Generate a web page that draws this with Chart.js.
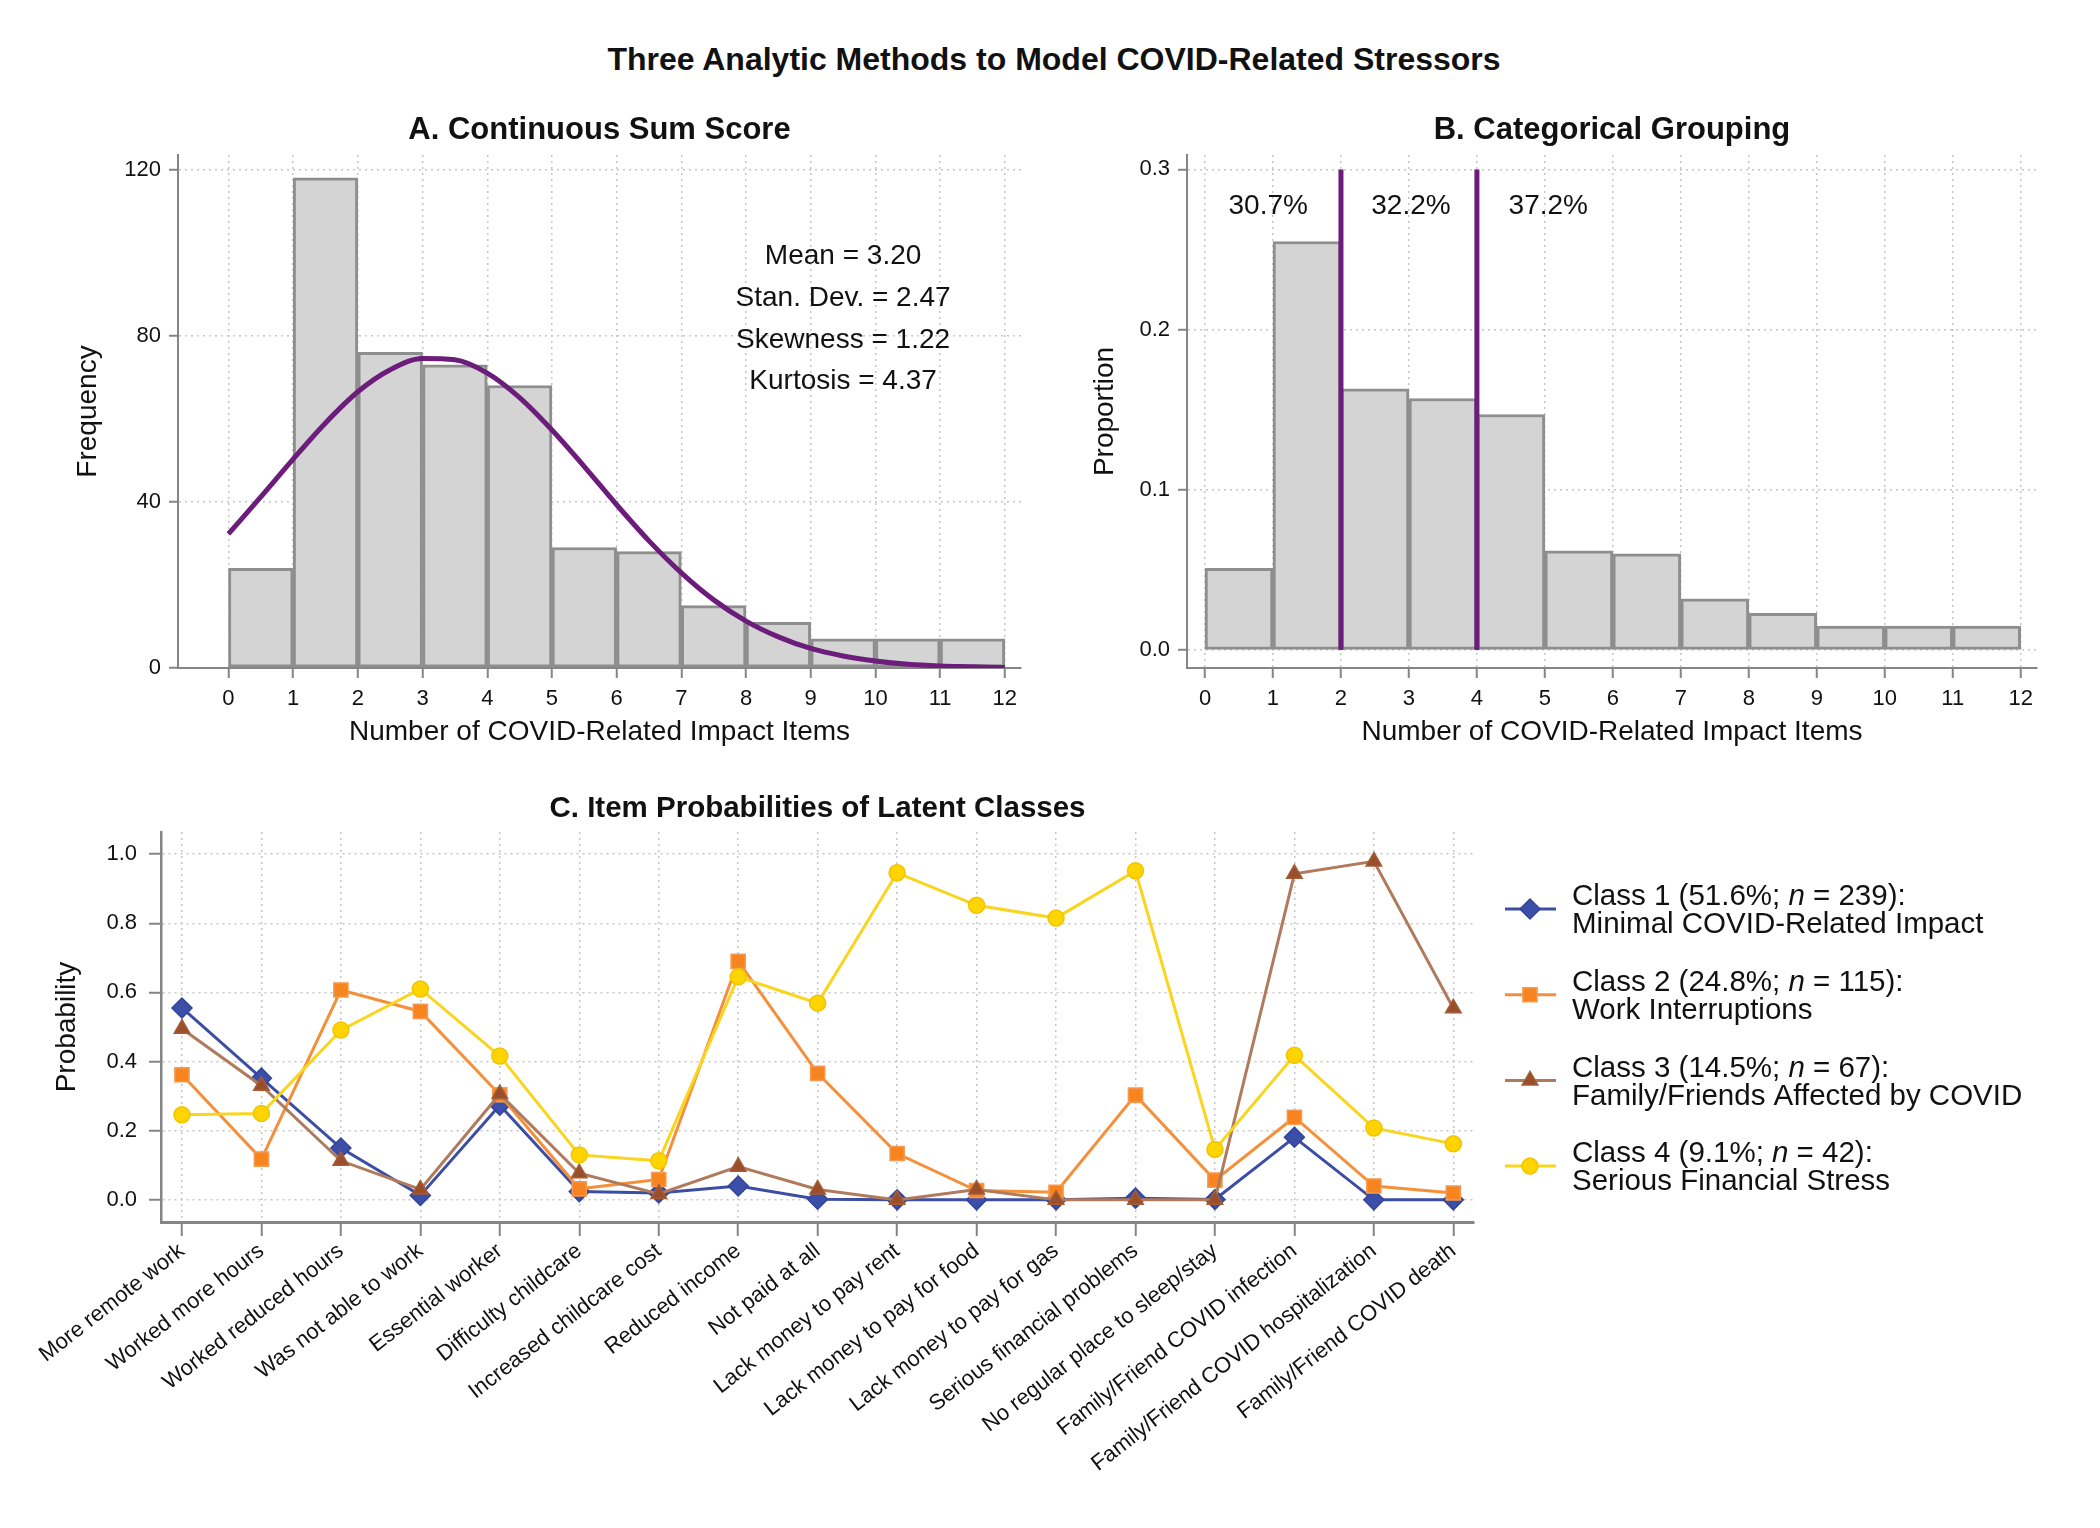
<!DOCTYPE html>
<html>
<head>
<meta charset="utf-8">
<title>Three Analytic Methods to Model COVID-Related Stressors</title>
<script src="https://cdn.jsdelivr.net/npm/chart.js@4.4.1/dist/chart.umd.min.js"></script>
<style>
  html, body { margin: 0; padding: 0; background: #fff; }
  #page { position: relative; width: 2100px; height: 1528px; overflow: hidden; background: #fff;
          font-family: "Liberation Sans", Arial, Helvetica, sans-serif; }
  #mainTitle { position: absolute; left: 4px; top: 40px; width: 2100px; text-align: center;
               font-size: 32px; line-height: 38px; font-weight: bold; color: #111; }
  .box { position: absolute; }
</style>
</head>
<body>
<div id="page">
  <div id="mainTitle">Three Analytic Methods to Model COVID-Related Stressors</div>
  <div class="box" style="left:0;top:80px;"><canvas id="chartA" width="1050" height="680"></canvas></div>
  <div class="box" style="left:1050px;top:80px;"><canvas id="chartB" width="1050" height="680"></canvas></div>
  <div class="box" style="left:0;top:760px;"><canvas id="chartC" width="2100" height="768"></canvas></div>
</div>
<script>
// ---- data ----
const binEdges = [0, 1, 2, 3, 4, 5, 6, 7, 8, 9, 10, 11, 12];
const frequency = [24, 118, 76, 73, 68, 29, 28, 15, 11, 7, 7, 7];
const proportion = [0.051, 0.255, 0.163, 0.157, 0.147, 0.062, 0.060, 0.032, 0.023, 0.015, 0.015, 0.015];

// fitted normal curve
const curveX = [0, 0.5, 1, 1.5, 2, 2.5, 3, 3.5, 4, 4.5, 5, 5.5, 6, 6.5, 7, 7.5, 8, 8.5, 9, 9.5, 10, 10.5, 11, 11.5, 12];
const curveY = [32.3, 41.2, 50.3, 59.0, 66.5, 71.8, 74.5, 74.2, 71.0, 65.1, 57.3, 48.5, 39.3, 30.6, 22.9, 16.4, 11.3, 7.5, 4.7, 2.9, 1.7, 0.9, 0.5, 0.3, 0.1];

const statsLines = ['Mean = 3.20', 'Stan. Dev. = 2.47', 'Skewness = 1.22', 'Kurtosis = 4.37'];
const freqTicks = [0, 40, 80, 120];
const propTicks = [0, 0.1, 0.2, 0.3];

const cutPoints = [2, 4];
const cutTop = 0.3;
const groupLabels = ['30.7%', '32.2%', '37.2%'];

const items = [
  'More remote work', 'Worked more hours', 'Worked reduced hours', 'Was not able to work',
  'Essential worker', 'Difficulty childcare', 'Increased childcare cost', 'Reduced income',
  'Not paid at all', 'Lack money to pay rent', 'Lack money to pay for food', 'Lack money to pay for gas',
  'Serious financial problems', 'No regular place to sleep/stay', 'Family/Friend COVID infection',
  'Family/Friend COVID hospitalization', 'Family/Friend COVID death'
];
const class1 = [0.555, 0.352, 0.150, 0.013, 0.274, 0.024, 0.020, 0.040, 0.002, 0.000, 0.000, 0.000, 0.005, 0.001, 0.181, 0.000, 0.000];
const class2 = [0.362, 0.118, 0.607, 0.545, 0.304, 0.032, 0.059, 0.690, 0.366, 0.134, 0.027, 0.022, 0.303, 0.057, 0.239, 0.040, 0.020];
const class3 = [0.495, 0.330, 0.113, 0.030, 0.306, 0.077, 0.017, 0.096, 0.030, 0.000, 0.030, 0.000, 0.000, 0.000, 0.943, 0.979, 0.554];
const class4 = [0.246, 0.250, 0.491, 0.610, 0.416, 0.130, 0.113, 0.645, 0.569, 0.946, 0.852, 0.815, 0.952, 0.146, 0.418, 0.208, 0.162];
const probTicks = [0, 0.2, 0.4, 0.6, 0.8, 1.0];

const classNames = ['Class 1', 'Class 2', 'Class 3', 'Class 4'];
const classShares = ['51.6%', '24.8%', '14.5%', '9.1%'];
const classSizes = [239, 115, 67, 42];
const classDescriptions = ['Minimal COVID-Related Impact', 'Work Interruptions', 'Family/Friends Affected by COVID', 'Serious Financial Stress'];

// ---- styles ----
const fontFamily = '"Liberation Sans", Arial, Helvetica, sans-serif';
Chart.defaults.font.family = fontFamily;
Chart.defaults.color = '#111';
Chart.defaults.animation = false;

const axisGray = '#858585';
const gridGray = '#c6c6c6';
const barFill = '#d4d4d4';
const barEdge = '#8e8e8e';
const purple = '#6c1c7a';

const classStyles = [
  { line: '#3c4ea3', fill: '#3b4ea8', edge: '#33449a', point: 'rectRot', radius: 10 },
  { line: '#f4903a', fill: '#f7841f', edge: '#f59a50', point: 'rect', radius: 10 },
  { line: '#b07a5c', fill: '#9a4e2a', edge: '#a35d38', point: 'triangle', radius: 9 },
  { line: '#fad51e', fill: '#ffd400', edge: '#f2c400', point: 'circle', radius: 8 }
];

function axisGrid(tickLen) {
  return { color: gridGray, lineWidth: 1.5, tickLength: tickLen, tickColor: axisGray, tickWidth: 2, offset: false };
}
const axisBorder = { color: axisGray, width: 2, dash: [2, 4] };
const titleFont = { size: 31, weight: 'bold', lineHeight: 1.2 };
const labelFont = { size: 28, lineHeight: 1.2 };
const tickFont = { size: 22, lineHeight: 1.2 };

function fixTicks(values) {
  return (scale) => { scale.ticks = values.map(v => ({ value: v })); };
}

const histBars = (vals) => vals.map((v, i) => ({ x: (binEdges[i] + binEdges[i + 1]) / 2, y: v }));

// ---- A. Continuous Sum Score ----
const statsText = {
  id: 'statsText',
  afterDatasetsDraw(chart) {
    const { ctx, scales: { x, y } } = chart;
    ctx.save();
    ctx.font = '28px ' + fontFamily;
    ctx.fillStyle = '#111';
    ctx.textAlign = 'center';
    ctx.textBaseline = 'middle';
    const cx = x.getPixelForValue(9.5);
    const top = y.getPixelForValue(99.8) + 3;
    statsLines.forEach((t, i) => ctx.fillText(t, cx, top + i * 41.7));
    ctx.restore();
  }
};

new Chart(document.getElementById('chartA'), {
  type: 'bar',
  data: {
    datasets: [
      {
        type: 'line',
        data: curveX.map((v, i) => ({ x: v, y: curveY[i] })),
        borderColor: purple,
        borderWidth: 5,
        pointRadius: 0,
        cubicInterpolationMode: 'monotone',
        order: 0
      },
      {
        data: histBars(frequency),
        backgroundColor: barFill,
        borderColor: barEdge,
        borderWidth: 3,
        borderSkipped: false,
        barPercentage: 1,
        categoryPercentage: 1,
        order: 1
      }
    ]
  },
  options: {
    responsive: false,
    devicePixelRatio: 1,
    events: [],
    layout: { padding: { left: 0, right: 29, top: 0, bottom: 0 } },
    plugins: {
      legend: { display: false },
      tooltip: { enabled: false },
      title: {
        display: true, text: 'A. Continuous Sum Score', font: titleFont, color: '#111',
        fullSize: false, padding: { top: 31.4, bottom: 6.4 }
      }
    },
    scales: {
      x: {
        type: 'linear', min: -0.78, max: 12.25, offset: false,
        afterBuildTicks: fixTicks(binEdges),
        afterFit: (s) => { s.height = 92; },
        grid: axisGrid(10), border: axisBorder,
        ticks: { font: tickFont, padding: 8, maxRotation: 0, autoSkip: false, color: '#111' },
        title: { display: true, text: 'Number of COVID-Related Impact Items', font: labelFont, color: '#111', padding: { top: 0, bottom: 11 } }
      },
      y: {
        min: 0, max: 123.5,
        afterBuildTicks: fixTicks(freqTicks),
        afterFit: (s) => { s.width = 178; },
        grid: axisGrid(9), border: axisBorder,
        ticks: { font: tickFont, padding: 8, color: '#111' },
        title: { display: true, text: 'Frequency', font: labelFont, color: '#111', padding: { top: 71, bottom: 0 } }
      }
    }
  },
  plugins: [statsText]
});

// ---- B. Categorical Grouping ----
const groupText = {
  id: 'groupText',
  afterDatasetsDraw(chart) {
    const { ctx, scales: { x, y } } = chart;
    const labelAt = [0.93, 3.03, 5.05];
    ctx.save();
    ctx.font = '28px ' + fontFamily;
    ctx.fillStyle = '#111';
    ctx.textAlign = 'center';
    ctx.textBaseline = 'middle';
    groupLabels.forEach((t, i) => ctx.fillText(t, x.getPixelForValue(labelAt[i]), y.getPixelForValue(0.279) + 3));
    ctx.restore();
  }
};

new Chart(document.getElementById('chartB'), {
  type: 'bar',
  data: {
    datasets: [
      ...cutPoints.map(c => ({
        type: 'line',
        data: [{ x: c, y: 0 }, { x: c, y: cutTop }],
        borderColor: purple,
        borderWidth: 5,
        pointRadius: 0,
        order: 0
      })),
      {
        data: histBars(proportion),
        backgroundColor: barFill,
        borderColor: barEdge,
        borderWidth: 3,
        borderSkipped: false,
        barPercentage: 1,
        categoryPercentage: 1,
        order: 1
      }
    ]
  },
  options: {
    responsive: false,
    devicePixelRatio: 1,
    events: [],
    layout: { padding: { left: 0, right: 63, top: 0, bottom: 0 } },
    plugins: {
      legend: { display: false },
      tooltip: { enabled: false },
      title: {
        display: true, text: 'B. Categorical Grouping', font: titleFont, color: '#111',
        fullSize: false, padding: { top: 31.4, bottom: 6.4 }
      }
    },
    scales: {
      x: {
        type: 'linear', min: -0.265, max: 12.24, offset: false,
        afterBuildTicks: fixTicks(binEdges),
        afterFit: (s) => { s.height = 92; },
        grid: axisGrid(10), border: axisBorder,
        ticks: { font: tickFont, padding: 8, maxRotation: 0, autoSkip: false, color: '#111' },
        title: { display: true, text: 'Number of COVID-Related Impact Items', font: labelFont, color: '#111', padding: { top: 0, bottom: 11 } }
      },
      y: {
        min: -0.0112, max: 0.309,
        afterBuildTicks: fixTicks(propTicks),
        afterFit: (s) => { s.width = 137; },
        grid: axisGrid(9), border: axisBorder,
        ticks: { font: tickFont, padding: 8, color: '#111', callback: v => v.toFixed(1) },
        title: { display: true, text: 'Proportion', font: labelFont, color: '#111', padding: { top: 38, bottom: 0 } }
      }
    }
  },
  plugins: [groupText]
});

// ---- C. Item Probabilities of Latent Classes ----
const classSeries = [class1, class2, class3, class4];

const classLegend = {
  id: 'classLegend',
  afterDraw(chart) {
    const ctx = chart.ctx;
    const lineX0 = 1505, lineX1 = 1556, markX = 1530, textX = 1572;
    const normal = '29.5px ' + fontFamily;
    const italic = 'italic 29.5px ' + fontFamily;
    classNames.forEach((name, i) => {
      const st = classStyles[i];
      const y1 = 137 + i * 85.7;
      const y2 = y1 + 28;
      const ym = y1 + 12;
      ctx.save();
      ctx.strokeStyle = st.line;
      ctx.lineWidth = 3;
      ctx.beginPath();
      ctx.moveTo(lineX0, ym);
      ctx.lineTo(lineX1, ym);
      ctx.stroke();
      ctx.fillStyle = st.fill;
      ctx.strokeStyle = st.edge;
      ctx.lineWidth = 1.5;
      Chart.helpers.drawPoint(ctx, { pointStyle: st.point, radius: st.radius, borderWidth: 1.5, rotation: 0 }, markX, ym);
      ctx.restore();

      ctx.save();
      ctx.fillStyle = '#111';
      ctx.textAlign = 'left';
      ctx.textBaseline = 'middle';
      let x = textX;
      const parts = [
        [name + ' (' + classShares[i] + '; ', normal],
        ['n', italic],
        [' = ' + classSizes[i] + '):', normal]
      ];
      parts.forEach(([t, f]) => {
        ctx.font = f;
        ctx.fillText(t, x, y1);
        x += ctx.measureText(t).width;
      });
      ctx.font = normal;
      ctx.fillText(classDescriptions[i], textX, y2);
      ctx.restore();
    });
  }
};

new Chart(document.getElementById('chartC'), {
  type: 'line',
  data: {
    datasets: classSeries.map((vals, i) => ({
      label: classNames[i] + ' (' + classShares[i] + '; n = ' + classSizes[i] + '): ' + classDescriptions[i],
      data: vals.map((v, k) => ({ x: k, y: v })),
      borderColor: classStyles[i].line,
      borderWidth: 3,
      tension: 0,
      pointStyle: classStyles[i].point,
      pointRadius: classStyles[i].radius,
      pointBackgroundColor: classStyles[i].fill,
      pointBorderColor: classStyles[i].edge,
      pointBorderWidth: 1.5,
      clip: false,
      order: 3 - i
    }))
  },
  options: {
    responsive: false,
    devicePixelRatio: 1,
    events: [],
    layout: { padding: { left: 0, right: 626, top: 0, bottom: 0 } },
    plugins: {
      legend: { display: false },
      tooltip: { enabled: false },
      title: {
        display: true, text: 'C. Item Probabilities of Latent Classes', font: { size: 29.5, weight: 'bold', lineHeight: 1.2 }, color: '#111',
        fullSize: false, padding: { top: 31.3, bottom: 5.3 }
      }
    },
    scales: {
      x: {
        type: 'linear', min: -0.264, max: 16.26, offset: false,
        afterBuildTicks: fixTicks(items.map((_, k) => k)),
        afterFit: (s) => { s.height = 306; },
        grid: axisGrid(14), border: { color: axisGray, width: 3, dash: [2, 4] },
        ticks: {
          font: tickFont, padding: 2, minRotation: 38, maxRotation: 38, autoSkip: false, color: '#111',
          callback: v => items[v]
        }
      },
      y: {
        min: -0.064, max: 1.064,
        afterBuildTicks: fixTicks(probTicks),
        afterFit: (s) => { s.width = 161; },
        grid: axisGrid(12), border: { color: axisGray, width: 2.5, dash: [2, 4] },
        ticks: { font: tickFont, padding: 12, color: '#111', callback: v => v.toFixed(1) },
        title: { display: true, text: 'Probability', font: labelFont, color: '#111', padding: { top: 50, bottom: 0 } }
      }
    }
  },
  plugins: [classLegend]
});
</script>
</body>
</html>
